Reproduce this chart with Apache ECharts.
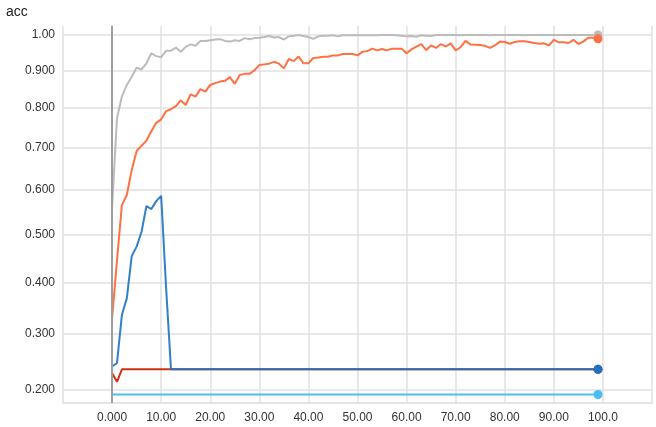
<!DOCTYPE html>
<html>
<head>
<meta charset="utf-8">
<script src="https://cdn.jsdelivr.net/npm/echarts@6/dist/echarts.min.js"></script>
<style>html,body{margin:0;padding:0;background:#fff;}#c{width:656px;height:427px;}</style>
</head>
<body>
<div id="c"></div>
<script>
// y tick values (accuracy) and x tick values (step)
const yTicks = [0.2, 0.3, 0.4, 0.5, 0.6, 0.7, 0.8, 0.9, 1.0];
const xTicks = [0, 10, 20, 30, 40, 50, 60, 70, 80, 90, 100];

// series values, one per step starting at step 0
const grayAcc = [
0.560,0.774,0.830,0.861,0.883,0.908,0.903,0.920,0.948,0.940,
0.937,0.955,0.955,0.964,0.952,0.966,0.973,0.969,0.983,0.983,
0.985,0.987,0.988,0.983,0.981,0.985,0.983,0.991,0.988,0.991,
0.992,0.994,0.997,0.993,0.994,0.987,0.996,0.998,1.000,0.997,
0.994,0.989,0.996,0.998,0.998,0.999,0.996,0.999,0.999,0.999,
0.999,0.999,0.999,0.999,0.999,1.000,1.000,1.000,0.999,0.998,
0.996,0.997,0.995,0.999,0.998,0.997,1.000,1.000,1.000,1.000,
1.000,0.999,1.000,1.000,1.000,1.000,1.000,0.999,1.000,1.000,
1.000,1.000,1.000,1.000,0.999,1.000,1.000,1.000,1.000,1.000,
1.000,1.000,1.000,1.000,1.000,1.000,1.000,1.000,1.000,1.000];

const orangeAcc = [
0.329,0.445,0.565,0.588,0.646,0.692,0.705,0.717,0.741,0.762,
0.771,0.792,0.797,0.805,0.820,0.808,0.836,0.830,0.850,0.843,
0.861,0.866,0.870,0.872,0.882,0.864,0.888,0.891,0.891,0.901,
0.915,0.917,0.919,0.924,0.919,0.906,0.932,0.926,0.939,0.920,
0.920,0.935,0.936,0.938,0.938,0.942,0.942,0.946,0.946,0.946,
0.942,0.952,0.954,0.961,0.956,0.960,0.956,0.961,0.961,0.961,
0.948,0.959,0.967,0.974,0.957,0.970,0.963,0.974,0.967,0.976,
0.956,0.965,0.983,0.973,0.972,0.971,0.969,0.963,0.970,0.981,
0.980,0.975,0.980,0.982,0.982,0.980,0.977,0.975,0.976,0.970,
0.986,0.979,0.979,0.977,0.986,0.974,0.981,0.992,0.992,0.989];

const blueAcc = [
0.240,0.246,0.336,0.368,0.454,0.474,0.506,0.563,0.556,0.574,
0.586,0.390,0.235,0.235,0.235,0.235,0.235,0.235,0.235,0.235,
0.235,0.235,0.235,0.235,0.235,0.235,0.235,0.235,0.235,0.235,
0.235,0.235,0.235,0.235,0.235,0.235,0.235,0.235,0.235,0.235,
0.235,0.235,0.235,0.235,0.235,0.235,0.235,0.235,0.235,0.235,
0.235,0.235,0.235,0.235,0.235,0.235,0.235,0.235,0.235,0.235,
0.235,0.235,0.235,0.235,0.235,0.235,0.235,0.235,0.235,0.235,
0.235,0.235,0.235,0.235,0.235,0.235,0.235,0.235,0.235,0.235,
0.235,0.235,0.235,0.235,0.235,0.235,0.235,0.235,0.235,0.235,
0.235,0.235,0.235,0.235,0.235,0.235,0.235,0.235,0.235,0.235];

const redAcc = [
0.228,0.213,0.235,0.235,0.235,0.235,0.235,0.235,0.235,0.235,
0.235,0.235,0.235,0.235,0.235,0.235,0.235,0.235,0.235,0.235,
0.235,0.235,0.235,0.235,0.235,0.235,0.235,0.235,0.235,0.235,
0.235,0.235,0.235,0.235,0.235,0.235,0.235,0.235,0.235,0.235,
0.235,0.235,0.235,0.235,0.235,0.235,0.235,0.235,0.235,0.235,
0.235,0.235,0.235,0.235,0.235,0.235,0.235,0.235,0.235,0.235,
0.235,0.235,0.235,0.235,0.235,0.235,0.235,0.235,0.235,0.235,
0.235,0.235,0.235,0.235,0.235,0.235,0.235,0.235,0.235,0.235,
0.235,0.235,0.235,0.235,0.235,0.235,0.235,0.235,0.235,0.235,
0.235,0.235,0.235,0.235,0.235,0.235,0.235,0.235,0.235,0.235];

const lightBlueAcc = [
0.191,0.191,0.191,0.191,0.191,0.191,0.191,0.191,0.191,0.191,
0.191,0.191,0.191,0.191,0.191,0.191,0.191,0.191,0.191,0.191,
0.191,0.191,0.191,0.191,0.191,0.191,0.191,0.191,0.191,0.191,
0.191,0.191,0.191,0.191,0.191,0.191,0.191,0.191,0.191,0.191,
0.191,0.191,0.191,0.191,0.191,0.191,0.191,0.191,0.191,0.191,
0.191,0.191,0.191,0.191,0.191,0.191,0.191,0.191,0.191,0.191,
0.191,0.191,0.191,0.191,0.191,0.191,0.191,0.191,0.191,0.191,
0.191,0.191,0.191,0.191,0.191,0.191,0.191,0.191,0.191,0.191,
0.191,0.191,0.191,0.191,0.191,0.191,0.191,0.191,0.191,0.191,
0.191,0.191,0.191,0.191,0.191,0.191,0.191,0.191,0.191,0.191];

// The chart's y scale is log(1 + acc); values go through this transform.
const tf = v => Math.log1p(v);
const inv = v => Math.expm1(v);

const FONT = 'Arial, "Liberation Sans", sans-serif';

function mkSeries(name, vals, color, extra, opacity) {
  const last = vals.length - 1;
  return Object.assign({
    name: name,
    type: 'line',
    data: vals.map((v, i) => [i, tf(v)]),
    symbol: 'circle',
    symbolSize: (val, p) => (p.dataIndex === last ? 9 : 0),
    lineStyle: { color: color, width: 2, opacity: opacity == null ? 1 : opacity },
    itemStyle: { color: color },
    silent: true,
    animation: false
  }, extra || {});
}

const chart = echarts.init(document.getElementById('c'), null, { renderer: 'canvas' });
chart.setOption({
  backgroundColor: '#fff',
  animation: false,
  title: {
    text: 'acc', left: 1, top: 0,
    textStyle: { fontFamily: FONT, fontSize: 14, fontWeight: 'normal', color: '#212121' }
  },
  grid: { left: 63, right: 4, top: 26, bottom: 24, containLabel: false },
  xAxis: {
    type: 'value',
    min: -10, max: 110, interval: 10,
    axisLine: { show: true, onZero: false, lineStyle: { color: '#dcdcdc', width: 1.5 } },
    axisTick: { show: false },
    splitLine: { show: true, lineStyle: { color: '#e0e0e0', width: 1.5 } },
    axisLabel: {
      color: '#333', fontFamily: FONT, fontSize: 12, margin: 9,
      formatter: v => (xTicks.indexOf(v) < 0 ? '' : (v === 0 ? '0.000' : v.toPrecision(4)))
    }
  },
  yAxis: {
    type: 'value',
    min: tf(0.1765), max: 0.7061,
    axisLine: { show: true, lineStyle: { color: '#cfcfcf', width: 2 } },
    axisTick: { show: false, customValues: yTicks.map(tf) },
    splitLine: { show: true, lineStyle: { color: '#e0e0e0', width: 1.5 } },
    axisLabel: {
      color: '#333', fontFamily: FONT, fontSize: 12, margin: 8,
      customValues: yTicks.map(tf),
      formatter: v => inv(v).toPrecision(3)
    }
  },
  series: [
    mkSeries('lightblue', lightBlueAcc, '#4bbdf0', {
      markLine: {
        silent: true, symbol: 'none', label: { show: false },
        lineStyle: { color: '#9e9e9e', width: 2, type: 'solid' },
        data: [{ xAxis: 0 }]
      }
    }),
    mkSeries('gray', grayAcc, '#bbbbbb'),
    mkSeries('orange', orangeAcc, '#ff7043'),
    mkSeries('red', redAcc, '#cc3311'),
    mkSeries('blue', blueAcc, '#1d72c2', null, 0.9)
  ]
});
</script>
</body>
</html>
